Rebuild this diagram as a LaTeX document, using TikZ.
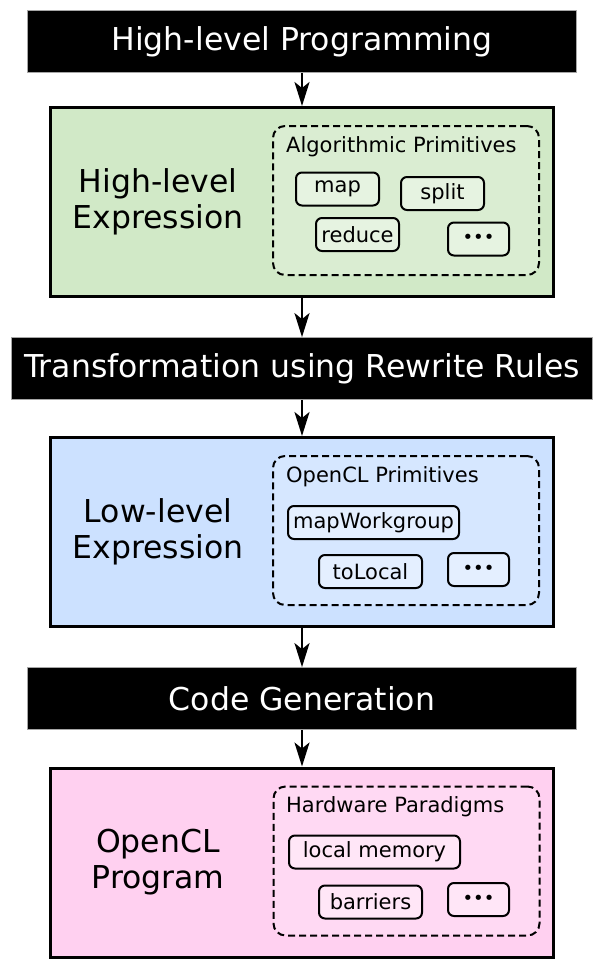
\documentclass[tikz,border=0pt]{standalone}
\usepackage{fontspec}
\setmainfont{DejaVu Sans}
\usetikzlibrary{arrows.meta}
\definecolor{hlgreen}{RGB}{209,233,199}
\definecolor{llblue}{RGB}{204,225,255}
\definecolor{clpink}{RGB}{255,208,240}
\begin{document}
\begin{tikzpicture}[x=1pt,y=-1pt,
  bar/.style={fill=black, draw=gray!70, line width=0.8pt, text=white,
    font=\fontsize{31.5}{36}\selectfont, inner sep=0pt, minimum height=62pt},
  stage/.style={draw=black, line width=3pt, inner sep=0pt,
    minimum width=503pt, minimum height=189pt},
  grp/.style={draw=black, line width=2pt, dash pattern=on 7pt off 4pt,
    rounded corners=12pt, fill=white, fill opacity=0.2, inner sep=0pt,
    minimum width=266pt, minimum height=149pt},
  prim/.style={draw=black, line width=2pt, rounded corners=6pt, fill=white,
    fill opacity=0.35, text opacity=1, font=\fontsize{21}{24}\selectfont,
    inner sep=0pt, minimum height=33pt},
  dots/.style={prim, minimum width=61pt, font=\fontsize{18}{20}\selectfont},
  flow/.style={line width=2.2pt, -{Stealth[length=24pt,width=15pt,inset=6pt]}},
  big/.style={font=\fontsize{31.5}{36}\selectfont, align=center},
  grptitle/.style={font=\fontsize{21}{24}\selectfont, anchor=west, inner sep=0pt}]
\useasboundingbox (0,0) rectangle (606,966);

% bars
\node[bar, minimum width=549pt] (b1) at (302,41.5) {High-level Programming};
\node[bar, minimum width=581pt] (b2) at (302,368.5) {Transformation using Rewrite Rules};
\node[bar, minimum width=549pt] (b3) at (302,698.5) {Code Generation};

% stages
\node[stage, fill=hlgreen] (s1) at (302,202) {};
\node[stage, fill=llblue] (s2) at (302,532) {};
\node[stage, fill=clpink] (s3) at (302,862.5) {};

\node[big] (l1) at (158,202) {High-level\\Expression};
\node[big] (l2) at (158,532) {Low-level\\Expression};
\node[big] (l3) at (158,862) {OpenCL\\Program};

% groups
\node[grp] (g1) at (406,200.5) {};
\node[grp] (g2) at (406,530.5) {};
\node[grp] (g3) at (406.5,861) {};
\node[grptitle] (c1) at (286,147) {Algorithmic Primitives};
\node[grptitle] (c2) at (286,477) {OpenCL Primitives};
\node[grptitle] (c3) at (286,807) {Hardware Paradigms};

% primitives
\node[prim, minimum width=83pt] (p1) at (337.5,189) {map};
\node[prim, minimum width=83pt] (p2) at (442.5,193.5) {split};
\node[prim, minimum width=83pt] (p3) at (357.5,234.5) {reduce};
\node[dots] (p4) at (478.5,239) {•••};

\node[prim, minimum width=171pt] (q1) at (373.5,522.5) {mapWorkgroup};
\node[prim, minimum width=103pt] (q2) at (370.5,571.5) {toLocal};
\node[dots] (q3) at (478.5,569.5) {•••};

\node[prim, minimum width=171pt] (r1) at (374.5,852) {local memory};
\node[prim, minimum width=103pt] (r2) at (370.5,902) {barriers};
\node[dots] (r3) at (478.5,899.5) {•••};

% flow
\draw[flow] (b1.south) -- (s1.north);
\draw[flow] (s1.south) -- (b2.north);
\draw[flow] (b2.south) -- (s2.north);
\draw[flow] (s2.south) -- (b3.north);
\draw[flow] (b3.south) -- (s3.north);
\end{tikzpicture}
\end{document}
